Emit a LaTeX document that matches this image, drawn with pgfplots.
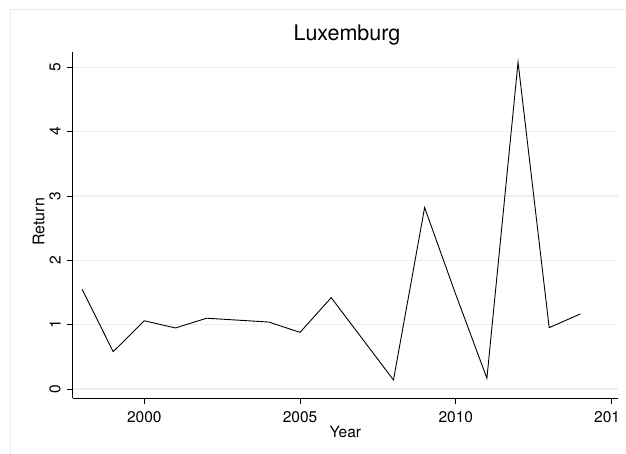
\documentclass[border=0pt]{standalone}
\usepackage{fontspec}
\setmainfont{TeX Gyre Heros}
\usepackage{pgfplots}
\pgfplotsset{compat=1.18}
\definecolor{gridc}{HTML}{EAF1F2}
\definecolor{framec}{HTML}{E4ECEE}
\begin{document}
\begin{tikzpicture}[x=1bp,y=1bp]
\useasboundingbox (0,0) rectangle (626,454);
\fill[white] (0,0) rectangle (626,454);
\draw[color=framec, line width=1bp] (10.7,0) -- (10.7,444.7) -- (626,444.7);
\begin{scope}
\clip (0,0) rectangle (618.5,454);
\begin{axis}[
  at={(72.7bp,55.7bp)}, anchor=south west,
  width=545.3bp, height=346bp, scale only axis,
  xmin=1997.7, xmax=2015.21, ymin=-0.145, ymax=5.234,
  axis x line*=bottom, axis y line*=left,
  axis line style={black, line width=0.9bp},
  xtick={2000,2005,2010,2015}, ytick={0,1,2,3,4,5},
  xticklabels={2000,2005,2010,2015},
  yticklabels={0,1,2,3,4,5},
  tick align=outside, major tick length=6bp,
  tick style={black, line width=0.9bp},
  ymajorgrids, grid style={color=gridc, line width=1.1bp},
  tick label style={font=\fontsize{15.5bp}{18bp}\selectfont},
  yticklabel style={rotate=90, anchor=south, inner sep=0pt},
  yticklabel shift=6bp,
  xticklabel style={anchor=north, inner sep=0pt},
  xticklabel shift=7bp,
  title={Luxemburg},
  title style={at={(axis description cs:0.503,1.0182)}, anchor=base, inner sep=0pt, font=\fontsize{21.5bp}{24bp}\selectfont},
  xlabel={Year},
  xlabel style={at={(axis description cs:0.5,-0.0974)}, anchor=center, inner sep=0pt, font=\fontsize{15.5bp}{18bp}\selectfont},
  ylabel={Return},
  ylabel style={at={(axis description cs:-0.0624,0.51)}, anchor=center, inner sep=0pt, rotate=0, font=\fontsize{16bp}{18bp}\selectfont},
  clip=false,
]
\addplot[black, line width=0.9bp, line join=miter] coordinates {
(1998,1.55) (1999,0.58) (2000,1.06) (2001,0.948) (2002,1.10)
(2004,1.04) (2005,0.88) (2006,1.42) (2008,0.14) (2009,2.82)
(2010,1.47) (2011,0.166) (2012,5.08) (2013,0.953) (2014,1.166)
};
\end{axis}
\end{scope}
\end{tikzpicture}
\end{document}
